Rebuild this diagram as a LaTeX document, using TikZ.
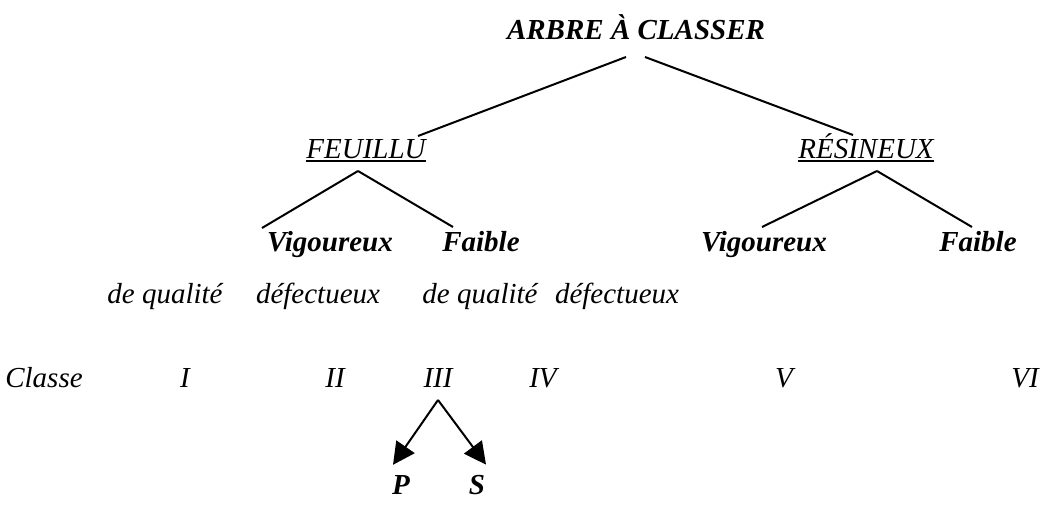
\documentclass[tikz,border=0pt]{standalone}
\usepackage{fontspec}
\setmainfont{Liberation Serif}
\usetikzlibrary{arrows.meta}
\begin{document}
\begin{tikzpicture}[x=1pt,y=-1pt,
  lbl/.style={font=\fontsize{29}{31}\selectfont\itshape, inner sep=0pt, anchor=base},
  blbl/.style={lbl, font=\fontsize{29}{31}\selectfont\bfseries\itshape},
  edge/.style={line width=2pt},
  ul/.style={line width=2.2pt},
  arr/.style={line width=2pt, -{Triangle[length=22pt,width=22pt]}}]
\useasboundingbox (0,0) rectangle (1045,506);

% root of the tree
\node[blbl] (root) at (636,39) {ARBRE À CLASSER};

% first split
\node[lbl] (feu) at (366,158) {FEUILLU};
\node[lbl] (res) at (866,158) {RÉSINEUX};
\draw[ul] ([yshift=-3pt]feu.base west) -- ([yshift=-3pt]feu.base east);
\draw[ul] ([yshift=-3pt]res.base west) -- ([yshift=-3pt]res.base east);

\coordinate (rl) at (626,57);
\coordinate (rr) at (645,57);
\coordinate (fe) at (418,136);
\coordinate (re) at (853,135);
\draw[edge] (rl) -- (fe);
\draw[edge] (rr) -- (re);

% second split
\node[blbl] (fvig) at (330,251) {Vigoureux};
\node[blbl] (ffai) at (481,251) {Faible};
\node[blbl] (rvig) at (764,251) {Vigoureux};
\node[blbl] (rfai) at (978,251) {Faible};

\coordinate (fa) at (358,171);
\coordinate (ra) at (877,171);
\draw[edge] (fa) -- (262,228);
\draw[edge] (fa) -- (453,227);
\draw[edge] (ra) -- (762,227);
\draw[edge] (ra) -- (972,227);

% qualities
\node[lbl] (q1) at (165,303) {de qualité};
\node[lbl] (d1) at (318,303) {défectueux};
\node[lbl] (q2) at (480,303) {de qualité};
\node[lbl] (d2) at (617,303) {défectueux};

% classes
\node[lbl] (cl) at (44,387) {Classe};
\node[lbl] (c1) at (185,387) {I};
\node[lbl] (c2) at (335,387) {II};
\node[lbl] (c3) at (438,387) {III};
\node[lbl] (c4) at (543,387) {IV};
\node[lbl] (c5) at (784,387) {V};
\node[lbl] (c6) at (1025,387) {VI};

% sub-classes of III
\node[blbl] (p) at (401,494) {P};
\node[blbl] (s) at (477,494) {S};
\coordinate (ca) at (438,400);
\draw[arr] (ca) -- ([xshift=-8pt,yshift=10pt]p.north);
\draw[arr] (ca) -- ([xshift=9pt,yshift=10pt]s.north);
\end{tikzpicture}
\end{document}
